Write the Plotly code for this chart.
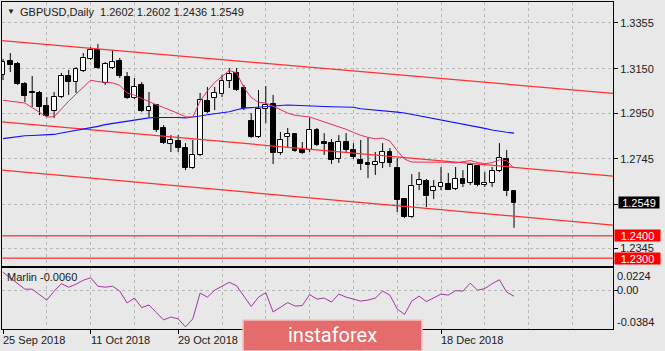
import numpy as np
import plotly.graph_objects as go

# ---------------- data ----------------
open_ = [1.3122, 1.3184, 1.3171, 1.3081, 1.3045, 1.3041, 1.2982, 1.2960, 1.3023, 1.3117,
         1.3090, 1.3140, 1.3193, 1.3234, 1.3086, 1.3153, 1.3184, 1.3113, 1.3018, 1.3077,
         1.2960, 1.2987, 1.2884, 1.2812, 1.2825, 1.2794, 1.2704, 1.2763, 1.3005, 1.3018,
         1.3036, 1.3095, 1.3131, 1.3063, 1.2915, 1.2843, 1.2969, 1.2991, 1.2771, 1.2843,
         1.2857, 1.2785, 1.2785, 1.2875, 1.2821, 1.2816, 1.2745, 1.2821, 1.2785, 1.2740,
         1.2727, 1.2718, 1.2727, 1.2776, 1.2704, 1.2565, 1.2484, 1.2628, 1.2646, 1.2601,
         1.2619, 1.2632, 1.2610, 1.2655, 1.2637, 1.2713, 1.2628, 1.2637, 1.2691, 1.2745,
         1.2602]
high = [1.3193, 1.3220, 1.3180, 1.3090, 1.3117, 1.3050, 1.3023, 1.3045, 1.3131, 1.3144,
        1.3157, 1.3220, 1.3247, 1.3261, 1.3180, 1.3234, 1.3198, 1.3135, 1.3108, 1.3090,
        1.3045, 1.2991, 1.2897, 1.2852, 1.2852, 1.2816, 1.2830, 1.3041, 1.3068, 1.3068,
        1.3122, 1.3153, 1.3153, 1.3077, 1.2951, 1.3054, 1.3072, 1.3032, 1.2866, 1.2884,
        1.2861, 1.2821, 1.2929, 1.2884, 1.2861, 1.2834, 1.2852, 1.2861, 1.2816, 1.2830,
        1.2839, 1.2776, 1.2816, 1.2794, 1.2749, 1.2570, 1.2677, 1.2686, 1.2655, 1.2650,
        1.2709, 1.2682, 1.2709, 1.2695, 1.2727, 1.2715, 1.2686, 1.2709, 1.2816, 1.2785,
        1.2602]
low = [1.3099, 1.3135, 1.3077, 1.3000, 1.2978, 1.2942, 1.2933, 1.2929, 1.3018, 1.3032,
       1.3041, 1.3135, 1.3189, 1.3149, 1.3077, 1.3149, 1.3108, 1.3014, 1.3014, 1.2955,
       1.2933, 1.2866, 1.2812, 1.2776, 1.2776, 1.2695, 1.2700, 1.2758, 1.2951, 1.2964,
       1.3023, 1.3063, 1.3050, 1.2964, 1.2839, 1.2839, 1.2906, 1.2722, 1.2763, 1.2798,
       1.2776, 1.2767, 1.2776, 1.2803, 1.2763, 1.2722, 1.2727, 1.2771, 1.2745, 1.2695,
       1.2659, 1.2673, 1.2704, 1.2709, 1.2507, 1.2480, 1.2480, 1.2605, 1.2529, 1.2565,
       1.2605, 1.2605, 1.2605, 1.2619, 1.2628, 1.2623, 1.2619, 1.2619, 1.2686, 1.2578,
       1.2436]
close = [1.3180, 1.3166, 1.3081, 1.3027, 1.3043, 1.2978, 1.2938, 1.3023, 1.3117, 1.3090,
         1.3149, 1.3198, 1.3234, 1.3153, 1.3171, 1.3180, 1.3117, 1.3018, 1.3068, 1.2960,
         1.2978, 1.2875, 1.2816, 1.2830, 1.2794, 1.2704, 1.2763, 1.3009, 1.2955, 1.3041,
         1.3095, 1.3126, 1.3054, 1.2973, 1.2843, 1.2969, 1.2987, 1.2771, 1.2830, 1.2857,
         1.2780, 1.2771, 1.2875, 1.2807, 1.2812, 1.2740, 1.2821, 1.2785, 1.2754, 1.2722,
         1.2718, 1.2731, 1.2776, 1.2727, 1.2561, 1.2484, 1.2623, 1.2650, 1.2578, 1.2619,
         1.2637, 1.2605, 1.2655, 1.2632, 1.2718, 1.2628, 1.2637, 1.2691, 1.2749, 1.2601,
         1.2549]
ma_fast = [1.3008, 1.3005, 1.3000, 1.2996, 1.2975, 1.2955, 1.2933, 1.2934, 1.2970, 1.3004,
           1.3036, 1.3069, 1.3098, 1.3092, 1.3088, 1.3086, 1.3075, 1.3041, 1.3031, 1.3017,
           1.3000, 1.2988, 1.2976, 1.2964, 1.2949, 1.2934, 1.2933, 1.3005, 1.3050, 1.3088,
           1.3117, 1.3142, 1.3131, 1.3065, 1.3021, 1.2999, 1.2996, 1.2981, 1.2964, 1.2951,
           1.2941, 1.2937, 1.2933, 1.2922, 1.2911, 1.2900, 1.2890, 1.2878, 1.2864, 1.2851,
           1.2842, 1.2835, 1.2839, 1.2825, 1.2782, 1.2744, 1.2731, 1.2731, 1.2731, 1.2731,
           1.2731, 1.2730, 1.2727, 1.2732, 1.2738, 1.2729, 1.2724, 1.2728, 1.2741, 1.2737,
           1.2704]
ma_slow = [1.2836, 1.2841, 1.2846, 1.2849, 1.2850, 1.2851, 1.2852, 1.2855, 1.2861, 1.2867,
           1.2872, 1.2877, 1.2882, 1.2891, 1.2899, 1.2904, 1.2908, 1.2913, 1.2920, 1.2926,
           1.2929, 1.2931, 1.2932, 1.2933, 1.2931, 1.2929, 1.2932, 1.2938, 1.2943, 1.2948,
           1.2952, 1.2957, 1.2966, 1.2973, 1.2975, 1.2978, 1.2982, 1.2984, 1.2985, 1.2987,
           1.2985, 1.2984, 1.2982, 1.2981, 1.2980, 1.2979, 1.2978, 1.2978, 1.2977, 1.2970,
           1.2967, 1.2965, 1.2964, 1.2959, 1.2955, 1.2951, 1.2945, 1.2938, 1.2932, 1.2926,
           1.2920, 1.2913, 1.2907, 1.2901, 1.2894, 1.2888, 1.2882, 1.2875, 1.2869, 1.2865,
           1.2861]
marlin = [0.0176, 0.0118, 0.0064, 0.0010, 0.0010, -0.0044, -0.0098, -0.0010, 0.0064, 0.0029,
          0.0059, 0.0098, 0.0123, 0.0039, 0.0029, 0.0039, -0.0010, -0.0127, -0.0078, -0.0172,
          -0.0147, -0.0221, -0.0294, -0.0265, -0.0284, -0.0363, -0.0284, -0.0029, -0.0069, 0.0000,
          0.0039, 0.0078, 0.0044, -0.0059, -0.0162, -0.0069, -0.0025, -0.0216, -0.0167, -0.0123,
          -0.0157, -0.0152, -0.0044, -0.0088, -0.0078, -0.0118, -0.0039, -0.0069, -0.0088, -0.0108,
          -0.0098, -0.0078, -0.0010, -0.0049, -0.0186, -0.0240, -0.0108, -0.0059, -0.0113, -0.0078,
          -0.0039, -0.0049, -0.0005, -0.0010, 0.0069, 0.0000, 0.0015, 0.0064, 0.0103, -0.0020,
          -0.0060]

# channel (trend) lines: anchor bar positions and prices
chan_x = [-0.14, 83.56]
chan_top = [1.3276, 1.3039]
chan_mid = [1.2911, 1.2668]
chan_low = [1.2695, 1.2448]
levels = [1.2400, 1.2300]

price_ticks = [1.3355, 1.3150, 1.2950, 1.2745, 1.2540, 1.2345]
price_tick_text = ["1.3355", "1.3150", "1.2950", "1.2745", "", "1.2345"]
date_tick_idx = [0, 12, 24, 60]
date_tick_text = ["25 Sep 2018", "11 Oct 2018", "29 Oct 2018", "18 Dec 2018"]
grid_idx = list(range(0, 84, 6))
osc_range = [-0.0384, 0.0224]
osc_tick_text = ["0.0224", "0.00", "-0.0384"]

# ---------------- geometry helpers ----------------
W, H = 665, 351
ML, MR, MT, MB = 2, 52, 2, 22
PW = W - ML - MR
PH = H - MT - MB


def px(x):
    return (x - ML) / PW


def py(y):
    return (H - MB - y) / PH


FONT = "Liberation Sans, Arial, sans-serif"
BG = "#e8e8e8"
GRID = "#b8b8b8"
GDASH = "3px,3px"

o = np.array(open_)
h = np.array(high)
l = np.array(low)
c = np.array(close)
idx = np.arange(len(c))
inc = c > o
dec = ~inc
body_lo = np.minimum(o, c)
body_hi = np.maximum(o, c)
body_h = np.maximum(body_hi - body_lo, 0.00004)

fig = go.Figure()

# wicks (split so they never cross white bodies)
wx, wy = [], []
for i in idx:
    wx += [i, i, None, i, i, None]
    wy += [h[i], body_hi[i], None, body_lo[i], l[i], None]
fig.add_trace(go.Scatter(x=wx, y=wy, mode="lines", line=dict(color="black", width=1),
                         hoverinfo="skip", xaxis="x", yaxis="y"))

# bodies
fig.add_trace(go.Bar(x=idx[inc], y=body_h[inc], base=body_lo[inc], width=0.66,
                     marker=dict(color="white", line=dict(color="black", width=1)),
                     xaxis="x", yaxis="y", hoverinfo="skip"))
fig.add_trace(go.Bar(x=idx[dec], y=body_h[dec], base=body_lo[dec], width=0.66,
                     marker=dict(color="black", line=dict(color="black", width=1)),
                     xaxis="x", yaxis="y", hoverinfo="skip"))

# channel lines
for ys in (chan_top, chan_mid, chan_low):
    fig.add_trace(go.Scatter(x=chan_x, y=ys, mode="lines",
                             line=dict(color="#ff3030", width=1.25),
                             hoverinfo="skip", xaxis="x", yaxis="y"))

# moving averages
fig.add_trace(go.Scatter(x=idx, y=ma_slow, mode="lines", line=dict(color="#1010ff", width=1.1),
                         hoverinfo="skip", xaxis="x", yaxis="y"))
fig.add_trace(go.Scatter(x=idx, y=ma_fast, mode="lines", line=dict(color="#e8305a", width=1),
                         hoverinfo="skip", xaxis="x", yaxis="y"))

# oscillator
fig.add_trace(go.Scatter(x=idx, y=marlin, mode="lines", line=dict(color="#a535a5", width=1),
                         hoverinfo="skip", xaxis="x2", yaxis="y2"))

shapes = []
for lv in levels:
    shapes.append(dict(type="line", xref="x domain", yref="y", x0=0, x1=1, y0=lv, y1=lv,
                       line=dict(color="#ff0000", width=1), layer="above"))
# logo box
shapes.append(dict(type="rect", xref="paper", yref="paper",
                   x0=px(243), x1=px(422), y0=py(351), y1=py(320),
                   fillcolor="#e46c6c", line=dict(color="#f4c4c4", width=1.5), layer="above"))

annotations = []
annotations.append(dict(xref="paper", yref="paper", x=px(10.5), y=py(12), text="▼",
                        showarrow=False, font=dict(family=FONT, size=8, color="#202020"),
                        xanchor="center", yanchor="middle"))
title_txt = "GBPUSD,Daily  %.4f %.4f %.4f %.4f" % (open_[-1], high[-1], low[-1], close[-1])
annotations.append(dict(xref="paper", yref="paper", x=px(18), y=py(12), text=title_txt,
                        showarrow=False, font=dict(family=FONT, size=11, color="#202020"),
                        xanchor="left", yanchor="middle"))
annotations.append(dict(xref="paper", yref="paper", x=px(5), y=py(277),
                        text="Marlin %.4f" % marlin[-1],
                        showarrow=False, font=dict(family=FONT, size=11, color="#202020"),
                        xanchor="left", yanchor="middle"))
# price boxes
annotations.append(dict(xref="paper", yref="y", x=px(618), y=close[-1], text="%.4f" % close[-1],
                        showarrow=False, font=dict(family=FONT, size=11, color="white"),
                        bgcolor="black", xanchor="left", yanchor="middle", width=40, height=11,
                        borderpad=0))
for lv in levels:
    annotations.append(dict(xref="paper", yref="y", x=px(614), y=lv, text="%.4f" % lv,
                            showarrow=False, font=dict(family=FONT, size=11, color="white"),
                            bgcolor="#ff0000", xanchor="left", yanchor="middle", width=45,
                            height=11, borderpad=0))
# oscillator scale labels
for txt, yy in zip(osc_tick_text, [276, 290, 322]):
    annotations.append(dict(xref="paper", yref="paper", x=px(615), y=py(yy), text=txt,
                            showarrow=False, font=dict(family=FONT, size=11, color="#202020"),
                            xanchor="left", yanchor="middle"))
# date labels (left aligned at tick)
for ti, tt in zip(date_tick_idx, date_tick_text):
    annotations.append(dict(xref="x2", yref="paper", x=ti, y=py(340), text=tt,
                            showarrow=False, font=dict(family=FONT, size=11, color="#202020"),
                            xanchor="left", yanchor="middle", xshift=-2))
# logo text
annotations.append(dict(xref="paper", yref="paper", x=px(332), y=py(335), text="instaforex",
                        showarrow=False, font=dict(family="Roboto, sans-serif", size=20,
                                                   color="white"),
                        xanchor="center", yanchor="middle"))

xr = [-0.137, 83.56]
axis_common = dict(showline=True, mirror=True, linecolor="black", linewidth=1,
                   zeroline=False, fixedrange=True)
fig.update_layout(
    width=W, height=H,
    margin=dict(l=ML, r=MR, t=MT, b=MB, pad=0),
    paper_bgcolor=BG, plot_bgcolor=BG,
    showlegend=False, barmode="overlay", bargap=0,
    font=dict(family=FONT, size=11, color="#202020"),
    xaxis=dict(domain=[0, 1], anchor="y", range=xr, tickvals=date_tick_idx,
               showticklabels=False, ticks="", showgrid=True, gridcolor=GRID, griddash=GDASH,
               minor=dict(tickvals=grid_idx, showgrid=True, gridcolor=GRID, griddash=GDASH,
                          ticks=""),
               **axis_common),
    yaxis=dict(domain=[py(265.5), 1], anchor="x", side="right", range=[1.2267, 1.3449],
               tickvals=price_ticks, ticktext=price_tick_text, ticks="outside", ticklen=4,
               tickcolor="black", showgrid=True, gridcolor=GRID, griddash=GDASH,
               tickfont=dict(family=FONT, size=11, color="#202020"),
               **axis_common),
    xaxis2=dict(domain=[0, 1], anchor="y2", range=xr, matches="x", tickvals=date_tick_idx,
                showticklabels=False, ticks="outside", ticklen=4, tickcolor="black",
                showgrid=True, gridcolor=GRID, griddash=GDASH,
                minor=dict(tickvals=grid_idx, showgrid=True, gridcolor=GRID, griddash=GDASH,
                           ticks=""),
                **axis_common),
    yaxis2=dict(domain=[0, py(267.5)], anchor="x2", side="right", range=osc_range,
                tickvals=[0], showticklabels=False, ticks="outside", ticklen=4,
                tickcolor="black", showgrid=True, gridcolor=GRID, griddash=GDASH,
                **axis_common),
    shapes=shapes,
    annotations=annotations,
)

fig.write_html("out.html", include_plotlyjs=True, config={"displayModeBar": False})
